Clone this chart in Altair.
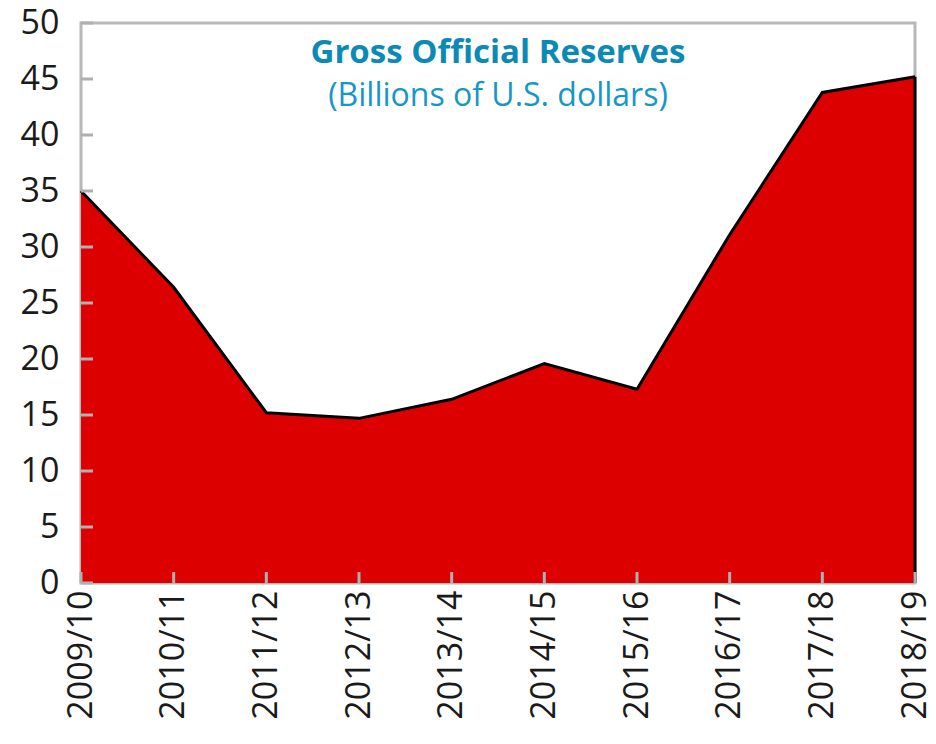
import altair as alt
import pandas as pd

years = ["2009/10", "2010/11", "2011/12", "2012/13", "2013/14",
         "2014/15", "2015/16", "2016/17", "2017/18", "2018/19"]
reserves = [35.0, 26.4, 15.2, 14.7, 16.4, 19.6, 17.3, 31.1, 43.8, 45.2]
y_ticks = [0, 5, 10, 15, 20, 25, 30, 35, 40, 45, 50]

df = pd.DataFrame({"year": years, "value": reserves})
df["base"] = 0
ticks_df = pd.DataFrame({"t": y_ticks})
last_df = df.tail(1)

FONT = "Open Sans"
W, H = 834, 560

x_enc = alt.X("year:O", sort=years, scale=alt.Scale(type="point", padding=0),
              axis=alt.Axis(title=None, labelAngle=-90, labelFontSize=34, labelFont=FONT,
                            labelColor="#1a1a1a", labelPadding=7, ticks=False,
                            domain=False))
y_scale = alt.Scale(domain=[0, 50], nice=False)
y_enc = alt.Y("value:Q", scale=y_scale,
              axis=alt.Axis(title=None, values=y_ticks, labelFontSize=34, labelFont=FONT,
                            labelColor="#1a1a1a", labelPadding=22, ticks=False,
                            domain=False, grid=False))

area = alt.Chart(df).mark_area(color="#dd0000", opacity=1).encode(x=x_enc, y=y_enc)
line = alt.Chart(df).mark_line(color="#000000", strokeWidth=3).encode(
    x=alt.X("year:O", sort=years), y=alt.Y("value:Q"))
right_edge = alt.Chart(last_df).mark_rule(color="#000000", strokeWidth=3).encode(
    x=alt.X("year:O", sort=years), y=alt.Y("value:Q"), y2=alt.Y2("base:Q"))

xticks = alt.Chart(df).mark_rule(color="#b0b0b0", strokeWidth=3).encode(
    x=alt.X("year:O", sort=years), y=alt.value(H), y2=alt.value(H - 11))
yticks = alt.Chart(ticks_df).mark_rule(color="#b0b0b0", strokeWidth=3).encode(
    y=alt.Y("t:Q", scale=y_scale), x=alt.value(0), x2=alt.value(12))

title = alt.Chart(pd.DataFrame({"s": ["Gross Official Reserves"]})).mark_text(
    font=FONT, fontSize=33, fontWeight="bold", color="#0b8ab5", align="center",
    baseline="alphabetic").encode(text="s:N", x=alt.value(W / 2), y=alt.value(40))
subtitle = alt.Chart(pd.DataFrame({"s": ["(Billions of U.S. dollars)"]})).mark_text(
    font=FONT, fontSize=32, color="#1597c8", align="center",
    baseline="alphabetic").encode(text="s:N", x=alt.value(W / 2), y=alt.value(83))

chart = alt.layer(area, line, right_edge, xticks, yticks, title, subtitle).properties(
    width=W, height=H,
    autosize=alt.AutoSizeParams(type="none"),
    padding={"left": 73, "top": 15, "right": 13, "bottom": 153},
    background="white",
).configure_view(stroke="#b8b8b8", strokeWidth=3)

chart.save("out.html", embed_options={"renderer": "svg", "actions": False})
